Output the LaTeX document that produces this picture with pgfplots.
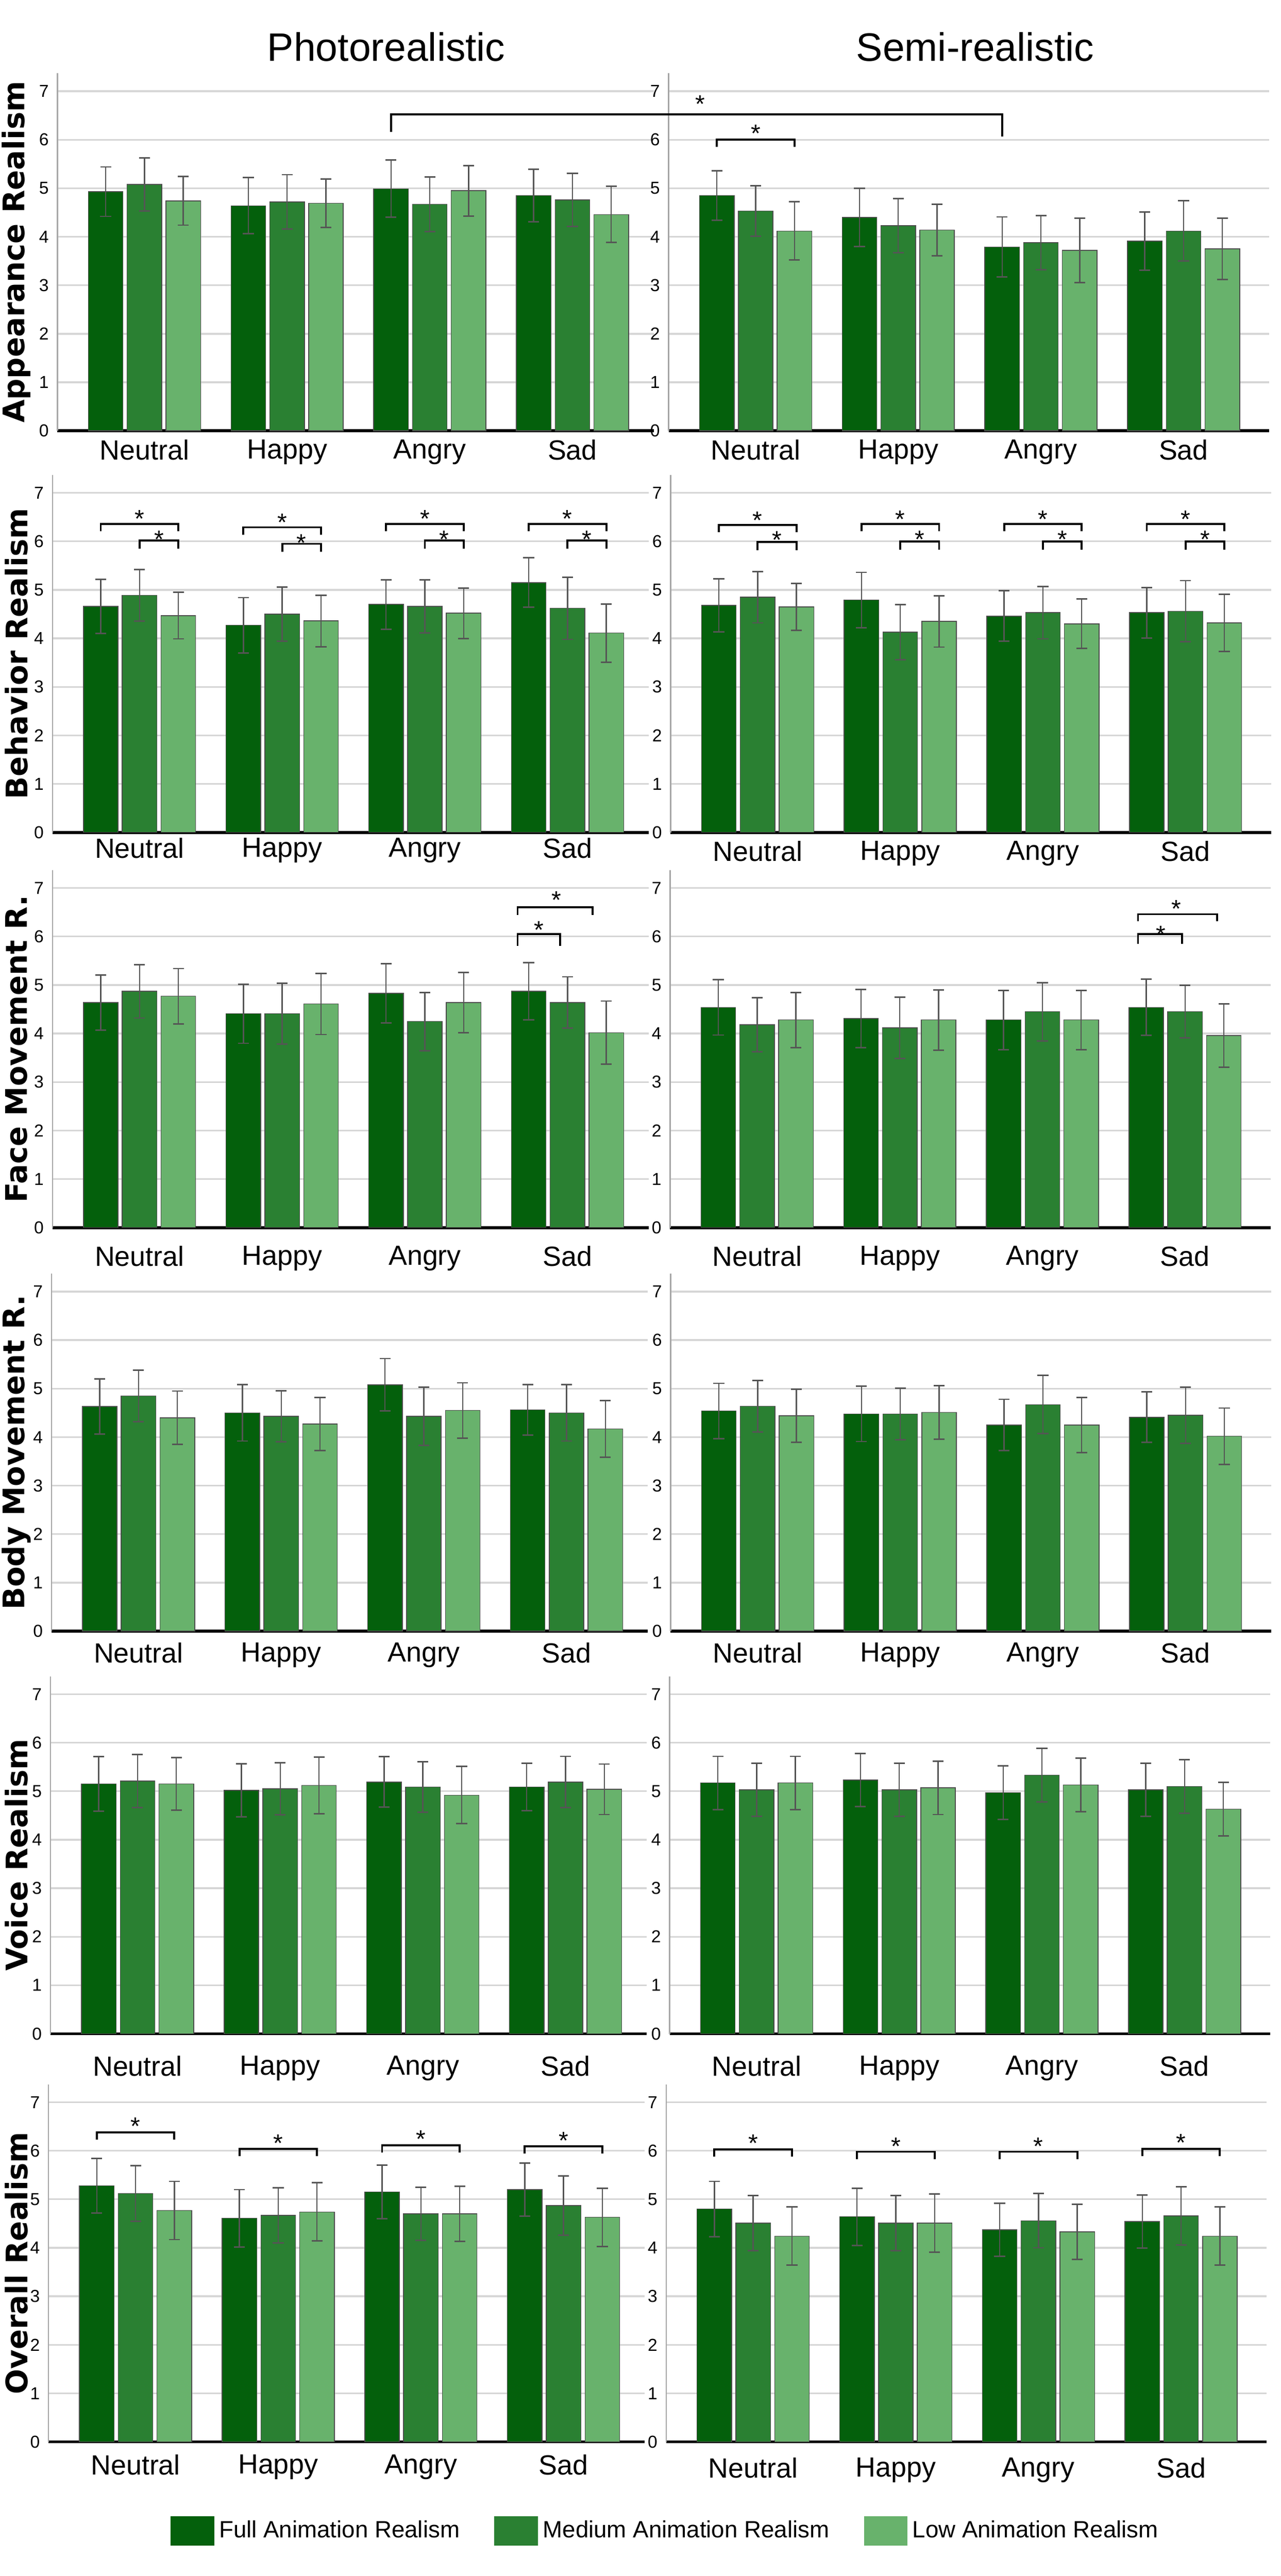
\documentclass[border=0pt]{standalone}
\usepackage{fontspec}
\setmainfont{Liberation Sans}
\newfontfamily\boldlab{DejaVu Sans}
\usepackage{pgfplots}
\usepackage{pgfplotstable}
\pgfplotsset{compat=1.18}

\definecolor{fullc}{HTML}{04600C}
\definecolor{medc}{HTML}{2A8032}
\definecolor{lowc}{HTML}{68B26C}
\definecolor{gridc}{HTML}{D6D6D6}
\definecolor{errc}{HTML}{555555}

% columns: category, mean and error for full / medium / low animation realism
\pgfplotstableread{
x full fe med me low le
0 4.93 0.51 5.08 0.55 4.74 0.50
1 4.64 0.58 4.72 0.56 4.69 0.50
2 4.99 0.59 4.67 0.56 4.95 0.52
3 4.85 0.54 4.76 0.55 4.46 0.58
}\apL
\pgfplotstableread{
x full fe med me low le
0 4.85 0.51 4.53 0.52 4.12 0.60
1 4.40 0.60 4.23 0.56 4.14 0.53
2 3.79 0.62 3.88 0.56 3.72 0.66
3 3.91 0.60 4.12 0.62 3.75 0.63
}\apR
\pgfplotstableread{
x full fe med me low le
0 4.66 0.56 4.89 0.53 4.47 0.48
1 4.27 0.57 4.50 0.56 4.36 0.53
2 4.70 0.51 4.66 0.55 4.52 0.52
3 5.15 0.51 4.62 0.64 4.11 0.60
}\beL
\pgfplotstableread{
x full fe med me low le
0 4.68 0.55 4.85 0.53 4.65 0.48
1 4.79 0.57 4.13 0.57 4.35 0.53
2 4.46 0.52 4.53 0.54 4.30 0.51
3 4.53 0.52 4.56 0.63 4.32 0.59
}\beR
\pgfplotstableread{
x full fe med me low le
0 4.64 0.57 4.87 0.55 4.77 0.57
1 4.41 0.61 4.41 0.63 4.61 0.63
2 4.83 0.61 4.25 0.60 4.64 0.62
3 4.87 0.59 4.64 0.53 4.02 0.65
}\faL
\pgfplotstableread{
x full fe med me low le
0 4.54 0.57 4.18 0.56 4.28 0.57
1 4.31 0.60 4.12 0.63 4.28 0.62
2 4.28 0.61 4.45 0.60 4.28 0.61
3 4.54 0.58 4.45 0.54 3.96 0.65
}\faR
\pgfplotstableread{
x full fe med me low le
0 4.63 0.57 4.85 0.53 4.40 0.55
1 4.50 0.58 4.43 0.53 4.27 0.55
2 5.08 0.54 4.43 0.60 4.55 0.57
3 4.56 0.52 4.50 0.58 4.17 0.58
}\boL
\pgfplotstableread{
x full fe med me low le
0 4.54 0.57 4.64 0.53 4.44 0.55
1 4.48 0.57 4.48 0.53 4.51 0.55
2 4.25 0.53 4.67 0.60 4.25 0.57
3 4.41 0.52 4.45 0.58 4.02 0.58
}\boR
\pgfplotstableread{
x full fe med me low le
0 5.15 0.56 5.21 0.55 5.15 0.54
1 5.02 0.55 5.05 0.54 5.12 0.58
2 5.19 0.52 5.09 0.52 4.92 0.59
3 5.09 0.49 5.19 0.53 5.04 0.52
}\voL
\pgfplotstableread{
x full fe med me low le
0 5.17 0.55 5.03 0.55 5.17 0.55
1 5.23 0.55 5.03 0.55 5.07 0.55
2 4.97 0.55 5.33 0.55 5.13 0.55
3 5.03 0.55 5.10 0.55 4.63 0.55
}\voR
\pgfplotstableread{
x full fe med me low le
0 5.28 0.56 5.12 0.57 4.77 0.60
1 4.61 0.59 4.67 0.57 4.74 0.60
2 5.15 0.55 4.70 0.55 4.70 0.57
3 5.20 0.55 4.87 0.61 4.63 0.60
}\ovL
\pgfplotstableread{
x full fe med me low le
0 4.80 0.57 4.51 0.57 4.24 0.60
1 4.64 0.59 4.51 0.57 4.51 0.60
2 4.37 0.55 4.56 0.56 4.33 0.57
3 4.54 0.55 4.66 0.60 4.24 0.60
}\ovR

\pgfplotsset{
  panel/.style={
    scale only axis, height=144.4pt,
    ymin=0, ymax=7.37, xmin=-0.61,
    ytick={0,...,7}, xtick={0,1,2,3},
    xticklabels={Neutral,Happy,Angry,Sad},
    ymajorgrids, grid style={gridc, line width=0.7pt},
    axis x line=bottom, axis y line=left,
    x axis line style={-, black, line width=1.2pt},
    y axis line style={-, black!35, line width=0.5pt},
    major tick length=0pt,
    /pgf/number format/assume math mode=true,
    yticklabel style={font=\fontsize{7}{8}\selectfont},
    xticklabel style={font=\fontsize{11.2}{13}\selectfont},
    ylabel style={font=\boldlab\bfseries\fontsize{12}{14}\selectfont, anchor=center},
    ybar, bar width=0.243, clip=false,
  },
  panelL/.style={panel, width=240.8pt, xmax=3.57},
  panelR/.style={panel, width=242.5pt, xmax=3.6},
  errs/.style={error bars/.cd, y dir=both, y explicit,
    error bar style={errc, line width=0.5pt},
    error mark options={errc, rotate=90, mark size=2.2pt, line width=0.6pt}},
  fullbar/.style={fill=fullc, draw=black!70, line width=0.3pt, bar shift=-0.272, errs},
  medbar/.style={fill=medc, draw=black!70, line width=0.3pt, bar shift=0, errs},
  lowbar/.style={fill=lowc, draw=black!70, line width=0.3pt, bar shift=0.272, errs},
}

\newcommand{\bars}[1]{%
  \addplot[fullbar] table[x=x, y=full, y error=fe] {#1};
  \addplot[medbar] table[x=x, y=med, y error=me] {#1};
  \addplot[lowbar] table[x=x, y=low, y error=le] {#1};
}
% bracket: x1, x2, height, drop, star x, star y
\newcommand{\sig}[6]{%
  \draw[line width=0.8pt] (axis cs:#1,{#3-#4}) -- (axis cs:#1,#3) -- (axis cs:#2,#3) -- (axis cs:#2,{#3-#4});
  \node[anchor=base, inner sep=0pt, font=\fontsize{10}{12}\selectfont] at (axis cs:#5,{#6-0.3}) {*};
}
\newcommand{\twosig}[5]{% category, big y, big star y, small y, small star y
  \sig{#1-0.272}{#1+0.272}{#2}{0.15}{#1}{#3}
  \sig{#1}{#1+0.272}{#4}{0.17}{#1+0.136}{#5}
}

\begin{document}
\begin{tikzpicture}
\useasboundingbox (0,0) rectangle (517.2pt,-1040.4pt);

\node[font=\fontsize{16}{19}\selectfont] at (156pt,-19pt) {Photorealistic};
\node[font=\fontsize{16}{19}\selectfont] at (393.8pt,-19pt) {Semi-realistic};

% row 1: appearance
\begin{axis}[panelL, at={(23.2pt,-174pt)}, anchor=south west,
  ylabel={Appearance Realism}, ylabel style={at={(axis description cs:-0.069,0.5)}}]
\bars{\apL}
\coordinate (cbL0) at (axis cs:1.728,6.16);
\coordinate (cbL) at (axis cs:1.728,6.52);
\end{axis}
\begin{axis}[panelR, at={(270pt,-174pt)}, anchor=south west]
\bars{\apR}
\coordinate (cbR0) at (axis cs:1.728,6.07);
\coordinate (cbR) at (axis cs:1.728,6.52);
\sig{-0.272}{0.272}{6.0}{0.15}{0}{6.25}
\node[anchor=base, inner sep=0pt, font=\fontsize{10}{12}\selectfont] at (axis cs:-0.39,6.56) {*};
\end{axis}
\draw[line width=0.8pt] (cbL0) -- (cbL) -- (cbR) -- (cbR0);

% row 2: behavior
\begin{axis}[panelL, at={(21.2pt,-336.2pt)}, anchor=south west,
  xticklabel style={yshift=1.2pt},
  ylabel={Behavior Realism}, ylabel style={at={(axis description cs:-0.0606,0.5)}}]
\bars{\beL}
\twosig{0}{6.36}{6.59}{6.02}{6.16}
\twosig{1}{6.29}{6.52}{5.95}{6.09}
\twosig{2}{6.36}{6.59}{6.02}{6.16}
\twosig{3}{6.36}{6.59}{6.02}{6.16}
\end{axis}
\begin{axis}[panelR, at={(270.8pt,-336.2pt)}, anchor=south west]
\bars{\beR}
\twosig{0}{6.34}{6.56}{5.99}{6.15}
\twosig{1}{6.36}{6.58}{6.00}{6.16}
\twosig{2}{6.36}{6.58}{6.00}{6.16}
\twosig{3}{6.36}{6.58}{6.00}{6.16}
\end{axis}

% row 3: face movement
\begin{axis}[panelL, at={(21.2pt,-495.8pt)}, anchor=south west,
  xticklabel style={yshift=-3.8pt},
  ylabel={Face Movement R.}, ylabel style={at={(axis description cs:-0.0606,0.5)}}]
\bars{\faL}
\sig{2.65}{3.177}{6.60}{0.16}{2.924}{6.88}
\sig{2.65}{2.948}{6.05}{0.24}{2.80}{6.26}
\end{axis}
\begin{axis}[panelR, at={(270.6pt,-495.8pt)}, anchor=south west,
  xticklabel style={yshift=-3.8pt}]
\bars{\faR}
\sig{2.67}{3.226}{6.46}{0.14}{2.94}{6.70}
\sig{2.67}{2.98}{6.05}{0.2}{2.83}{6.17}
\end{axis}

% row 4: body movement
\begin{axis}[panelL, at={(20.8pt,-658.8pt)}, anchor=south west,
  xticklabel style={yshift=-1.2pt},
  ylabel={Body Movement R.}, ylabel style={at={(axis description cs:-0.059,0.5)}}]
\bars{\boL}
\end{axis}
\begin{axis}[panelR, at={(270.8pt,-658.8pt)}, anchor=south west,
  xticklabel style={yshift=-1.2pt}]
\bars{\boR}
\end{axis}

% row 5: voice
\begin{axis}[panelL, at={(20.4pt,-821.4pt)}, anchor=south west,
  xticklabel style={yshift=-5.4pt},
  ylabel={Voice Realism}, ylabel style={at={(axis description cs:-0.0573,0.5)}}]
\bars{\voL}
\end{axis}
\begin{axis}[panelR, at={(270.4pt,-821.4pt)}, anchor=south west,
  xticklabel style={yshift=-5.4pt}]
\bars{\voR}
\end{axis}

% row 6: overall
\begin{axis}[panelL, at={(19.6pt,-986.2pt)}, anchor=south west,
  xticklabel style={yshift=-1.6pt},
  ylabel={Overall Realism}, ylabel style={at={(axis description cs:-0.054,0.5)}},
  legend columns=3,
  legend entries={Full Animation Realism, Medium Animation Realism, Low Animation Realism},
  legend image code/.code={\fill[#1,/tikz/.cd,draw=none] (0pt,-6pt) rectangle (17.6pt,6pt);},
  legend style={at={(axis description cs:1.037,-0.249)}, anchor=center, draw=none, fill=none,
    font=\fontsize{9.5}{11}\selectfont,
    /tikz/every even column/.append style={column sep=12pt}}]
\bars{\ovL}
\sig{-0.272}{0.272}{6.38}{0.15}{0}{6.63}
\sig{0.728}{1.272}{6.04}{0.15}{1}{6.28}
\sig{1.728}{2.272}{6.11}{0.15}{2}{6.36}
\sig{2.728}{3.272}{6.09}{0.15}{3}{6.33}
\end{axis}
\begin{axis}[panelR, at={(269pt,-986.2pt)}, anchor=south west,
  xticklabel style={yshift=-2.8pt}]
\bars{\ovR}
\sig{-0.272}{0.272}{6.03}{0.15}{0}{6.28}
\sig{0.728}{1.272}{5.98}{0.15}{1}{6.22}
\sig{1.728}{2.272}{5.98}{0.15}{2}{6.22}
\sig{2.728}{3.272}{6.04}{0.15}{3}{6.29}
\end{axis}
\end{tikzpicture}
\end{document}
